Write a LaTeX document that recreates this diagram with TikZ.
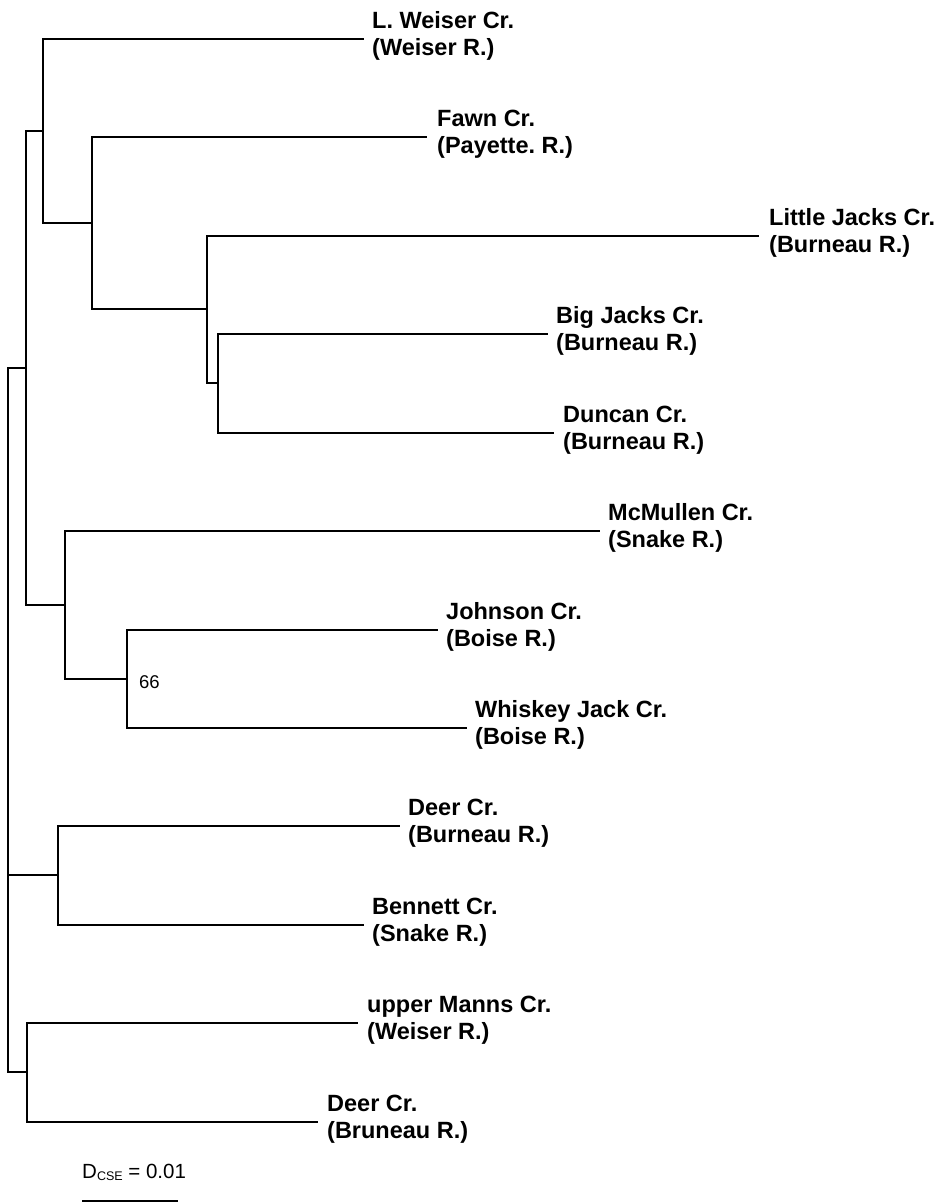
\documentclass[tikz,border=0pt]{standalone}
\usepackage{fontspec}
\setmainfont{Liberation Sans}
\frenchspacing
\begin{document}
\begin{tikzpicture}[x=1pt,y=-1pt,
  branch/.style={line width=1.5pt, line join=miter},
  lab/.style={anchor=base west, inner sep=0pt, font=\bfseries\fontsize{23.5}{27.5}\selectfont},
  boot/.style={anchor=base west, inner sep=0pt, font=\fontsize{18.5}{20}\selectfont},
  scl/.style={anchor=base west, inner sep=0pt, font=\fontsize{20.5}{22}\selectfont}]
\useasboundingbox (0,0) rectangle (940,1203);
% internal nodes
\coordinate (R) at (8,720);
\coordinate (B) at (26,368);
\coordinate (A) at (43,131);
\coordinate (F) at (92,223);
\coordinate (G) at (207,309);
\coordinate (H) at (218,383);
\coordinate (M) at (65,605);
\coordinate (J) at (127,679);
\coordinate (D) at (58,875);
\coordinate (U) at (27,1072);
% tips
\coordinate (tLW) at (364,39);
\coordinate (tFW) at (427,137);
\coordinate (tLJ) at (759,236);
\coordinate (tBJ) at (548,334);
\coordinate (tDU) at (554,433);
\coordinate (tMC) at (600,531);
\coordinate (tJO) at (438,630);
\coordinate (tWJ) at (467,728);
\coordinate (tDE) at (400,826);
\coordinate (tBE) at (364,925);
\coordinate (tUM) at (358,1023);
\coordinate (tDB) at (318,1122);
% branches
\draw[branch] (R) |- (B);
\draw[branch] (R) |- (D);
\draw[branch] (R) |- (U);
\draw[branch] (B) |- (A);
\draw[branch] (B) |- (M);
\draw[branch] (A) |- (tLW);
\draw[branch] (A) |- (F);
\draw[branch] (F) |- (tFW);
\draw[branch] (F) |- (G);
\draw[branch] (G) |- (tLJ);
\draw[branch] (G) |- (H);
\draw[branch] (H) |- (tBJ);
\draw[branch] (H) |- (tDU);
\draw[branch] (M) |- (tMC);
\draw[branch] (M) |- (J);
\draw[branch] (J) |- (tJO);
\draw[branch] (J) |- (tWJ);
\draw[branch] (D) |- (tDE);
\draw[branch] (D) |- (tBE);
\draw[branch] (U) |- (tUM);
\draw[branch] (U) |- (tDB);
% labels
\node[lab] (lLW) at (372,28) {\vtop{\hbox{L. Weiser Cr.}\hbox{(Weiser R.)}}};
\node[lab] (lFW) at (437,126) {\vtop{\hbox{Fawn Cr.}\hbox{(Payette. R.)}}};
\node[lab] (lLJ) at (769,225) {\vtop{\hbox{Little Jacks Cr.}\hbox{(Burneau R.)}}};
\node[lab] (lBJ) at (556,323) {\vtop{\hbox{Big Jacks Cr.}\hbox{(Burneau R.)}}};
\node[lab] (lDU) at (563,422) {\vtop{\hbox{Duncan Cr.}\hbox{(Burneau R.)}}};
\node[lab] (lMC) at (608,520) {\vtop{\hbox{McMullen Cr.}\hbox{(Snake R.)}}};
\node[lab] (lJO) at (446,619) {\vtop{\hbox{Johnson Cr.}\hbox{(Boise R.)}}};
\node[lab] (lWJ) at (475,717) {\vtop{\hbox{Whiskey Jack Cr.}\hbox{(Boise R.)}}};
\node[lab] (lDE) at (408,815) {\vtop{\hbox{Deer Cr.}\hbox{(Burneau R.)}}};
\node[lab] (lBE) at (372,914) {\vtop{\hbox{Bennett Cr.}\hbox{(Snake R.)}}};
\node[lab] (lUM) at (367,1012) {\vtop{\hbox{upper Manns Cr.}\hbox{(Weiser R.)}}};
\node[lab] (lDB) at (327,1111) {\vtop{\hbox{Deer Cr.}\hbox{(Bruneau R.)}}};
% bootstrap
\node[boot] (bs) at (139,688) {66};
% scale
\node[scl] (sc) at (82,1178) {D\raisebox{-2pt}{\fontsize{12.5}{13}\selectfont CSE} = 0.01};
\coordinate (s1) at (82,1201);
\coordinate (s2) at (178,1201);
\draw[branch] (s1) -- (s2);
\end{tikzpicture}
\end{document}
